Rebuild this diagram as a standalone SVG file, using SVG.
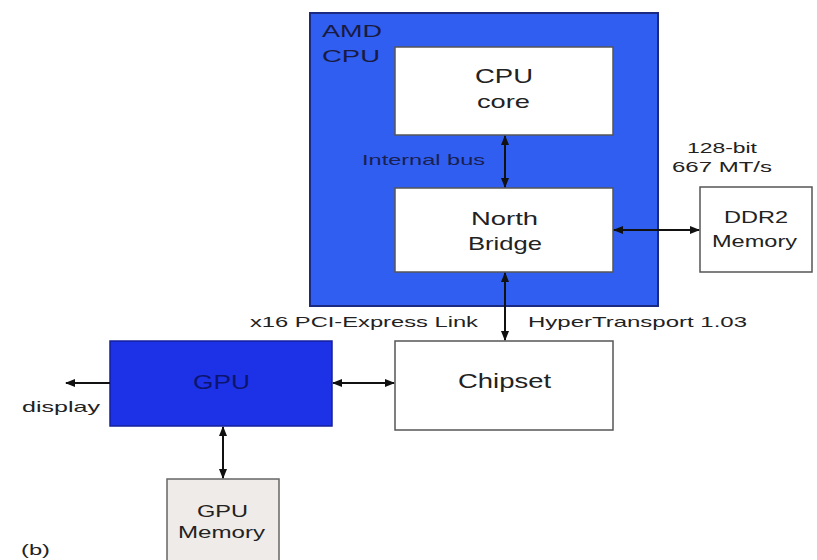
<svg xmlns="http://www.w3.org/2000/svg" width="817" height="560" viewBox="0 0 817 560">
<defs>
<marker id="ah" viewBox="0 0 10 10" refX="9" refY="5" markerWidth="10" markerHeight="10" markerUnits="userSpaceOnUse" orient="auto-start-reverse"><path d="M0,1 L10,5 L0,9 z" fill="#111"/></marker>
</defs>
<style>
text{font-family:"Liberation Sans",Arial,sans-serif;fill:#222;}
.box{fill:#fff;stroke:#555;stroke-width:1.5;}
.lbl{font-size:15px;}
.big{font-size:21px;}
.mid{font-size:19px;}
.sm{font-size:16px;}
.con{stroke:#111;stroke-width:2;fill:none;marker-start:url(#ah);marker-end:url(#ah);}
</style>
<rect width="817" height="560" fill="#fff"/>
<g id="amd-cpu">
<rect x="310" y="13" width="348" height="293" fill="#2f5ef0" stroke="#1a2a80" stroke-width="2"/>
<text x="322" y="37" class="sm" textLength="60" lengthAdjust="spacingAndGlyphs" style="fill:#1a1a40">AMD</text>
<text x="322" y="62" class="sm" textLength="58" lengthAdjust="spacingAndGlyphs" style="fill:#1a1a40">CPU</text>
</g>
<g id="cpu-core">
<rect x="395" y="47" width="218" height="88" class="box" stroke="#889"/>
<text x="475" y="83" class="big" textLength="58" lengthAdjust="spacingAndGlyphs">CPU</text>
<text x="477" y="108" class="mid" textLength="53" lengthAdjust="spacingAndGlyphs">core</text>
</g>
<g id="north-bridge">
<rect x="395" y="188" width="218" height="84" class="box"/>
<text x="471" y="225" class="mid" textLength="67" lengthAdjust="spacingAndGlyphs">North</text>
<text x="468" y="250" class="mid" textLength="74" lengthAdjust="spacingAndGlyphs">Bridge</text>
</g>
<g id="ddr2">
<rect x="700" y="187" width="112" height="85" class="box"/>
<text x="724" y="223" class="sm" textLength="64" lengthAdjust="spacingAndGlyphs">DDR2</text>
<text x="712" y="247" class="sm" textLength="85" lengthAdjust="spacingAndGlyphs">Memory</text>
</g>
<g id="chipset">
<rect x="395" y="341" width="218" height="89" class="box"/>
<text x="458" y="388" class="big" textLength="93" lengthAdjust="spacingAndGlyphs">Chipset</text>
</g>
<g id="gpu">
<rect x="110" y="341" width="222" height="85" fill="#1d32e6" stroke="#14209a" stroke-width="1.5"/>
<text x="193" y="389" class="big" textLength="57" lengthAdjust="spacingAndGlyphs" style="fill:#0c1470">GPU</text>
</g>
<g id="gpu-memory">
<rect x="167" y="479" width="112" height="90" fill="#efebe8" stroke="#666" stroke-width="1.5"/>
<text x="197" y="517" class="sm" textLength="51" lengthAdjust="spacingAndGlyphs">GPU</text>
<text x="178" y="538" class="sm" textLength="87" lengthAdjust="spacingAndGlyphs">Memory</text>
</g>
<g id="connectors">
<line x1="505" y1="136" x2="505" y2="187" class="con"/>
<line x1="505" y1="273" x2="505" y2="340" class="con"/>
<line x1="614" y1="230" x2="699" y2="230" class="con"/>
<line x1="333" y1="383" x2="394" y2="383" class="con"/>
<line x1="223" y1="427" x2="223" y2="478" class="con"/>
<line x1="110" y1="383" x2="66" y2="383" stroke="#111" stroke-width="2" marker-end="url(#ah)"/>
</g>
<g id="labels">
<text x="362" y="165" class="lbl" textLength="123" lengthAdjust="spacingAndGlyphs" style="fill:#1a2050">Internal bus</text>
<text x="687" y="153" class="lbl" textLength="70" lengthAdjust="spacingAndGlyphs">128-bit</text>
<text x="672" y="172" class="lbl" textLength="100" lengthAdjust="spacingAndGlyphs">667 MT/s</text>
<text x="250" y="327" class="lbl" textLength="228" lengthAdjust="spacingAndGlyphs">x16 PCI-Express Link</text>
<text x="528" y="327" class="lbl" textLength="219" lengthAdjust="spacingAndGlyphs">HyperTransport 1.03</text>
<text x="22" y="412" class="lbl" textLength="78" lengthAdjust="spacingAndGlyphs">display</text>
<text x="21" y="555" class="lbl" textLength="29" lengthAdjust="spacingAndGlyphs">(b)</text>
</g>
</svg>
